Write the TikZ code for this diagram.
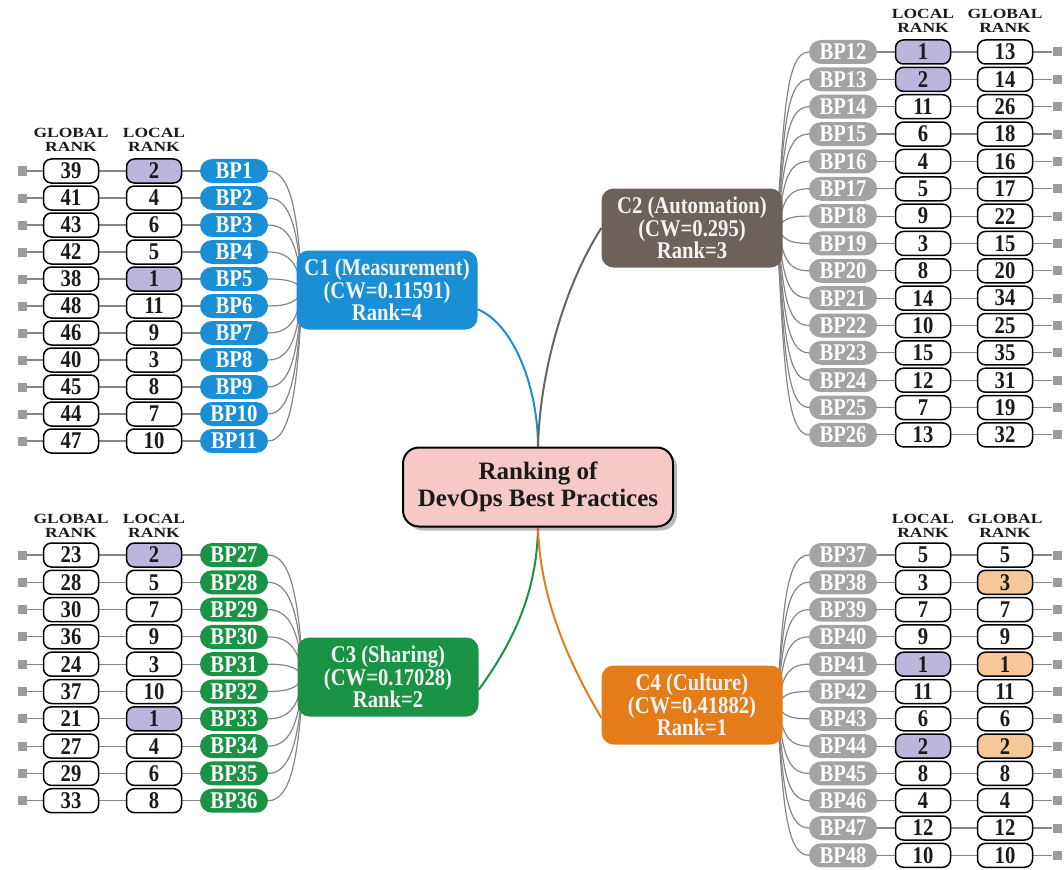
\documentclass[tikz,border=0pt]{standalone}
\usepackage{fontspec}
\setmainfont{Liberation Serif}
\newfontfamily\hdrfont[FakeStretch=1.25]{Liberation Serif}
\newfontfamily\numfont[FakeStretch=0.86]{Liberation Serif}
\usetikzlibrary{shadows,backgrounds}
\definecolor{cblue}{HTML}{1A8FD6}
\definecolor{cbrown}{HTML}{6D615B}
\definecolor{cgreen}{HTML}{1A9444}
\definecolor{corange}{HTML}{E37C19}
\definecolor{bpgray}{HTML}{A3A3A3}
\definecolor{lav}{HTML}{BDB5DC}
\definecolor{peach}{HTML}{F6C897}
\definecolor{pinkc}{HTML}{F6C8C8}
\definecolor{linegray}{HTML}{858585}
\definecolor{sqgray}{HTML}{9C9C9C}
\definecolor{txtw}{HTML}{F4F4F4}
\definecolor{txtd}{HTML}{1A1A1A}
\tikzset{
 rankbox/.style={draw=black, line width=1.5pt, rounded corners=8pt, minimum width=55pt, minimum height=24pt, inner sep=0pt, text=txtd, font=\numfont\bfseries\fontsize{24}{24}\selectfont},
 bpbox/.style={rounded corners=12pt, minimum width=68pt, minimum height=24pt, inner sep=0pt, text=white, font=\numfont\bfseries\fontsize{24}{24}\selectfont},
 sqbox/.style={fill=sqgray, minimum size=9pt, inner sep=0pt},
 link/.style={draw=linegray, line width=1.1pt},
 fan/.style={draw=linegray, line width=1.2pt},
 catbox/.style={rounded corners=12pt, minimum width=181pt, minimum height=79pt, inner sep=0pt, text=txtw, align=center, font=\numfont\bfseries\fontsize{24}{22.5}\selectfont},
 hdr/.style={align=center, inner sep=0pt, text=txtd, font=\hdrfont\bfseries\fontsize{14}{14}\selectfont},
 mainlink/.style={line width=2pt}
}
\begin{document}
\begin{tikzpicture}[x=1pt,y=-1pt]
\useasboundingbox (0,0) rectangle (1064,869);
% central node
\node[draw=black, line width=2pt, fill=pinkc, rounded corners=16pt, minimum width=270pt, minimum height=79pt, align=center, text=txtd,
 font=\bfseries\fontsize{25}{27}\selectfont,
 drop shadow={shadow xshift=4pt, shadow yshift=-4pt, fill=black!60, opacity=0.45}] (ctr) at (538,487) {Ranking of\\DevOps Best Practices};
% category nodes
\node[catbox, fill=cblue] (C1) at (387,290) {C1 (Measurement)\\(CW=0.11591)\\Rank=4};
\node[catbox, fill=cbrown] (C2) at (692,228) {C2 (Automation)\\(CW=0.295)\\Rank=3};
\node[catbox, fill=cgreen] (C3) at (388,677) {C3 (Sharing)\\(CW=0.17028)\\Rank=2};
\node[catbox, fill=corange] (C4) at (692,705) {C4 (Culture)\\(CW=0.41882)\\Rank=1};
\begin{scope}[on background layer]
\draw[mainlink, cblue] (ctr.north) .. controls (538,390) and (515,325) .. (C1.-12);
\draw[mainlink, cbrown] (ctr.north) .. controls (540,370) and (565,285) .. (C2.west);
\draw[mainlink, cgreen] (ctr.south) .. controls (537,590) and (515,640) .. (C3.-8);
\draw[mainlink, corange] (ctr.south) .. controls (540,600) and (570,665) .. (C4.188);
\end{scope}
% headers
\node[hdr] (h1g) at (71,140) {GLOBAL\\RANK};
\node[hdr] (h1l) at (154,140) {LOCAL\\RANK};
\node[hdr] (h2l) at (923,21) {LOCAL\\RANK};
\node[hdr] (h2g) at (1005,21) {GLOBAL\\RANK};
\node[hdr] (h3g) at (71,526) {GLOBAL\\RANK};
\node[hdr] (h3l) at (154,526) {LOCAL\\RANK};
\node[hdr] (h4l) at (923,526) {LOCAL\\RANK};
\node[hdr] (h4g) at (1005,526) {GLOBAL\\RANK};
% C1 group
\foreach \i/\g/\l/\lc [count=\k from 0] in {1/39/2/lav,2/41/4/white,3/43/6/white,4/42/5/white,5/38/1/lav,6/48/11/white,7/46/9/white,8/40/3/white,9/45/8/white,10/44/7/white,11/47/10/white}{
 \pgfmathsetmacro\yy{171+27*\k}
 \pgfmathsetmacro\cy{290+(\yy-290)*0.6}
 \node[sqbox] (sq\i) at (22,\yy) {};
 \node[rankbox, fill=white] (gr\i) at (71,\yy) {\g};
 \node[rankbox, fill=\lc] (lr\i) at (154,\yy) {\l};
 \node[bpbox, fill=cblue] (bp\i) at (234,\yy) {BP\i};
 \begin{scope}[on background layer]
 \draw[link] (sq\i) -- (gr\i);
 \draw[link] (gr\i) -- (lr\i);
 \draw[link] (lr\i) -- (bp\i);
 \draw[fan] (bp\i.east) .. controls +(24,0) and (298,\cy) .. ([xshift=6pt]C1.west);
 \end{scope}
}
% C2 group
\foreach \i/\l/\g/\lc [count=\k from 0] in {12/1/13/lav,13/2/14/lav,14/11/26/white,15/6/18/white,16/4/16/white,17/5/17/white,18/9/22/white,19/3/15/white,20/8/20/white,21/14/34/white,22/10/25/white,23/15/35/white,24/12/31/white,25/7/19/white,26/13/32/white}{
 \pgfmathsetmacro\yy{52+27.35*\k}
 \pgfmathsetmacro\cy{228+(\yy-228)*0.6}
 \node[bpbox, fill=bpgray] (bp\i) at (843,\yy) {BP\i};
 \node[rankbox, fill=\lc] (lr\i) at (923,\yy) {\l};
 \node[rankbox, fill=white] (gr\i) at (1005,\yy) {\g};
 \node[sqbox] (sq\i) at (1057,\yy) {};
 \begin{scope}[on background layer]
 \draw[link] (bp\i) -- (lr\i);
 \draw[link] (lr\i) -- (gr\i);
 \draw[link] (gr\i) -- (sq\i);
 \draw[fan] (bp\i.west) .. controls +(-24,0) and (784,\cy) .. ([xshift=-6pt]C2.east);
 \end{scope}
}
% C3 group
\foreach \i/\g/\l/\lc [count=\k from 0] in {27/23/2/lav,28/28/5/white,29/30/7/white,30/36/9/white,31/24/3/white,32/37/10/white,33/21/1/lav,34/27/4/white,35/29/6/white,36/33/8/white}{
 \pgfmathsetmacro\yy{555+27.3*\k}
 \pgfmathsetmacro\cy{677+(\yy-677)*0.6}
 \node[sqbox] (sq\i) at (22,\yy) {};
 \node[rankbox, fill=white] (gr\i) at (71,\yy) {\g};
 \node[rankbox, fill=\lc] (lr\i) at (154,\yy) {\l};
 \node[bpbox, fill=cgreen] (bp\i) at (234,\yy) {BP\i};
 \begin{scope}[on background layer]
 \draw[link] (sq\i) -- (gr\i);
 \draw[link] (gr\i) -- (lr\i);
 \draw[link] (lr\i) -- (bp\i);
 \draw[fan] (bp\i.east) .. controls +(24,0) and (299,\cy) .. ([xshift=6pt]C3.west);
 \end{scope}
}
% C4 group
\foreach \i/\l/\g/\lc/\gc [count=\k from 0] in {37/5/5/white/white,38/3/3/white/peach,39/7/7/white/white,40/9/9/white/white,41/1/1/lav/peach,42/11/11/white/white,43/6/6/white/white,44/2/2/lav/peach,45/8/8/white/white,46/4/4/white/white,47/12/12/white/white,48/10/10/white/white}{
 \pgfmathsetmacro\yy{555+27.3*\k}
 \pgfmathsetmacro\cy{705+(\yy-705)*0.6}
 \node[bpbox, fill=bpgray] (bp\i) at (843,\yy) {BP\i};
 \node[rankbox, fill=\lc] (lr\i) at (923,\yy) {\l};
 \node[rankbox, fill=\gc] (gr\i) at (1005,\yy) {\g};
 \node[sqbox] (sq\i) at (1057,\yy) {};
 \begin{scope}[on background layer]
 \draw[link] (bp\i) -- (lr\i);
 \draw[link] (lr\i) -- (gr\i);
 \draw[link] (gr\i) -- (sq\i);
 \draw[fan] (bp\i.west) .. controls +(-24,0) and (783,\cy) .. ([xshift=-6pt]C4.east);
 \end{scope}
}
\end{tikzpicture}
\end{document}
